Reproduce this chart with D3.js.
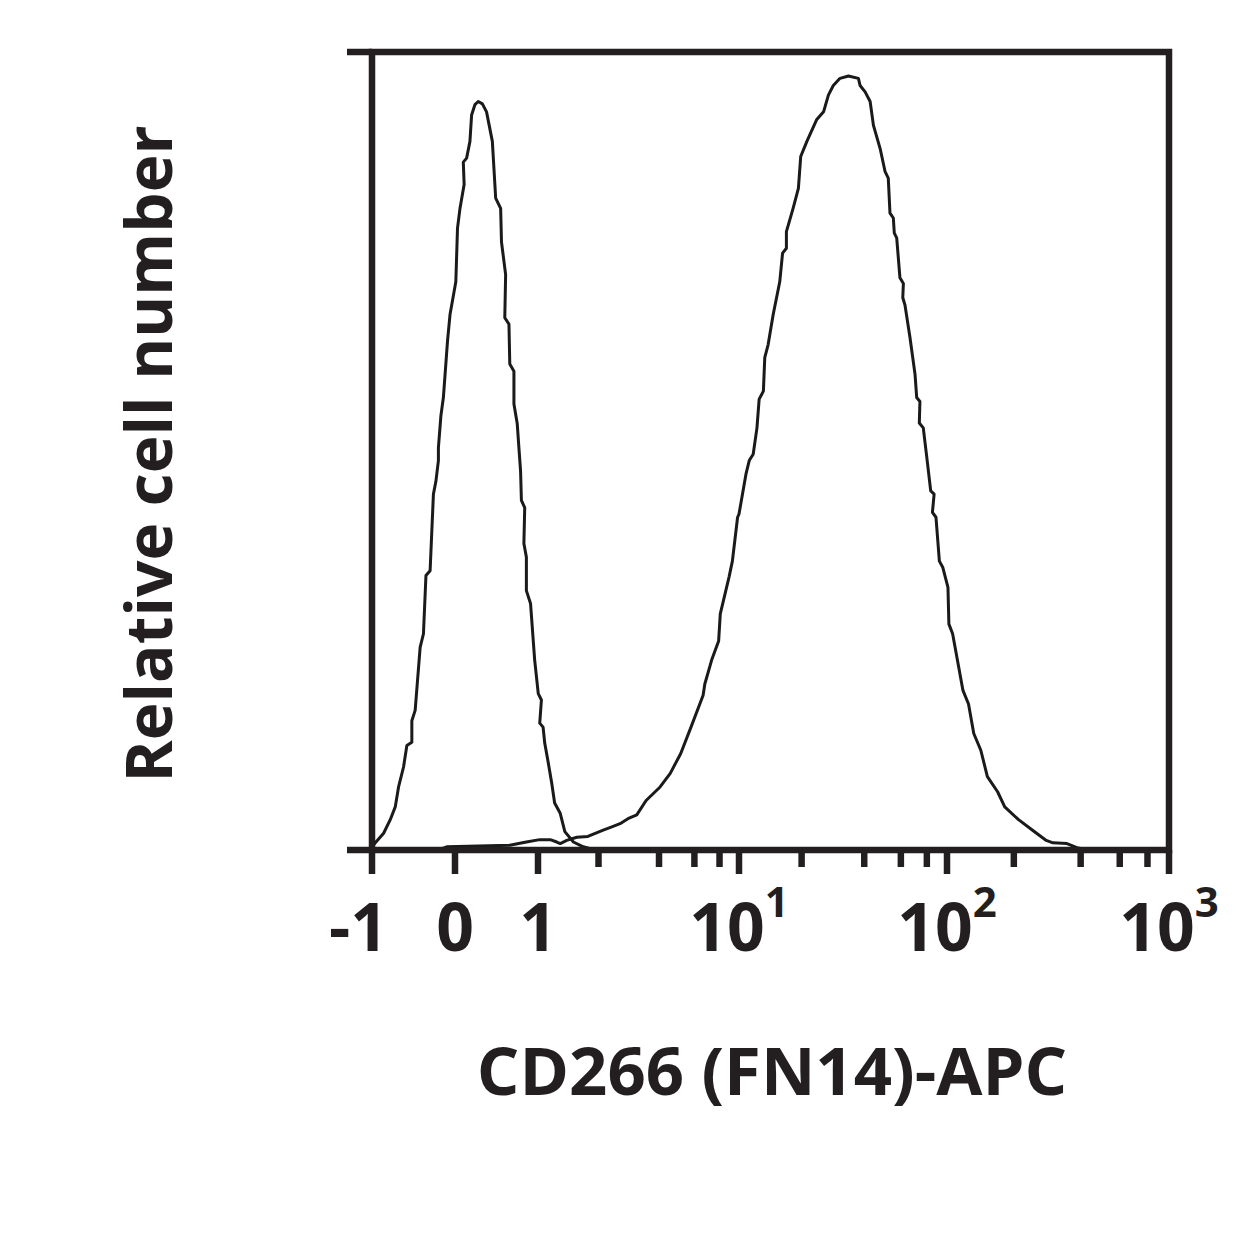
<!DOCTYPE html>
<html>
<head>
<meta charset="utf-8">
<script src="https://cdn.jsdelivr.net/npm/d3@7"></script>
<style>
	body { margin: 0; background: #fff; }
	text { font-family: "Open Sans", sans-serif; font-weight: 700; fill: #231f20; }
</style>
</head>
<body>
<div id="chart"></div>
<script>
/*globals d3 */
// flow histogram: isotype vs stained, biexponential-ish x axis
var majorTicks = [-1, 0, 1, 10, 100, 1000];
var majorLabels = ["-1", "0", "1", "10", "10", "10"];
var majorSups = ["", "", "", "1", "2", "3"];
var minorTicks = [2, 4, 6, 8, 20, 40, 60, 80, 200, 400, 600, 800];
var yTicks = [0, 100];

var xTitle = "CD266 (FN14)-APC";
var yTitle = "Relative cell number";

// isotype control (left peak)
var isoX = [-1.0, -0.96, -0.86, -0.78, -0.72, -0.68, -0.62, -0.58, -0.52, -0.52,
	-0.48, -0.42, -0.38, -0.35, -0.30, -0.26, -0.23, -0.20, -0.20, -0.17,
	-0.14, -0.09, -0.06, 0.01, 0.03, 0.06, 0.11, 0.10, 0.14, 0.18,
	0.20, 0.24, 0.28, 0.33, 0.38, 0.45, 0.49, 0.55, 0.56, 0.61,
	0.60, 0.65, 0.66, 0.71, 0.71, 0.75, 0.77, 0.79, 0.80, 0.84,
	0.83, 0.86, 0.86, 0.91, 0.96, 1.003, 1.04, 1.02, 1.06, 1.08,
	1.12, 1.17, 1.21, 1.29, 1.36, 1.50, 1.68, 1.86];
var isoY = [0.4, 0.9, 2.1, 3.8, 5.4, 7.9, 10.4, 13.1, 13.5, 16.2,
	17.5, 25.4, 27.1, 34.4, 35.0, 44.6, 46.2, 48.8, 50.4, 54.4,
	56.7, 63.8, 67.1, 71.2, 77.9, 80.4, 83.4, 86.2, 86.7, 88.8,
	92.1, 93.4, 93.8, 93.5, 92.5, 88.8, 81.7, 80.4, 76.2, 72.1,
	66.7, 65.9, 60.9, 60.0, 55.9, 53.4, 50.4, 47.5, 43.8, 42.9,
	38.4, 36.7, 32.5, 30.9, 23.8, 19.6, 18.8, 15.9, 15.4, 13.4,
	11.2, 8.4, 5.9, 4.6, 2.3, 1.0, 0.4, 0.1];

// stained sample (right peak)
var stainX = [-0.2, -0.10, 0.66, 0.86, 1.02, 1.15, 1.24, 1.29, 1.39, 1.56,
	1.77, 2.11, 2.33, 2.56, 2.84, 3.10, 3.45, 4.05, 4.55, 5.13,
	5.77, 6.63, 6.76, 7.31, 7.92, 8.07, 8.92, 9.27, 9.84, 10.0,
	10.8, 11.2, 11.7, 12.2, 12.5, 13.1, 13.3, 13.8, 14.6, 15.7,
	16.2, 16.9, 16.9, 18.2, 19.3, 19.8, 21.2, 23.6, 25.5, 26.9,
	28.4, 30.6, 33.6, 37.5, 38.2, 40.4, 42.7, 44.3, 47.7, 50.4,
	52.2, 53.2, 55.2, 55.8, 57.3, 59.4, 61.7, 61.3, 62.8, 66.4,
	70.2, 71.5, 74.1, 73.6, 76.9, 80.3, 83.5, 86.7, 85.1, 88.5,
	91.9, 95.5, 101, 102, 106, 118, 125, 132, 142, 152,
	169, 182, 210, 242, 280, 300, 347, 385, 400, 420];
var stainY = [0, 0.4, 0.6, 1.0, 1.3, 1.3, 1.0, 0.8, 1.2, 1.6,
	1.7, 2.5, 2.9, 3.3, 4.0, 4.4, 6.2, 7.9, 9.6, 12.1,
	15.4, 19.4, 20.8, 23.8, 26.2, 29.6, 34.2, 36.2, 41.7, 42.1,
	47.1, 48.8, 49.6, 52.9, 56.5, 57.5, 61.7, 63.3, 67.1, 71.2,
	74.8, 75.4, 77.5, 80.4, 82.9, 86.9, 88.8, 91.5, 92.5, 94.6,
	95.8, 96.7, 97.0, 96.7, 95.8, 95.0, 93.8, 90.8, 87.9, 85.0,
	84.2, 79.8, 79.2, 77.3, 76.7, 71.7, 71.0, 69.2, 68.3, 64.2,
	59.6, 56.7, 56.2, 53.5, 52.9, 48.8, 45.0, 44.6, 42.3, 41.7,
	36.2, 35.4, 32.9, 28.3, 27.1, 20.0, 18.3, 14.6, 12.5, 9.2,
	7.3, 5.4, 3.8, 2.5, 1.2, 0.9, 0.8, 0.3, 0.2, 0];

(function() {
	"use strict";
	var W = 1250, H = 1250,
	left = 372, right = 1169, top = 52, bottom = 850,
	ink = "#231f20";

	// linear part below 1, log decades above (slightly widening, like a logicle display)
	var xLin = d3.scaleLinear().domain([-1, 1]).range([left, 538]);
	var xDec = d3.scaleLinear().domain([0, 1, 2, 3]).range([538, 739, 947, right]);
	function x(v) {
		return v <= 1 ? xLin(v) : xDec(Math.log10(v));
	}
	var y = d3.scaleLinear().domain([0, 100]).range([bottom, top]);

	var svg = d3.select("#chart").append("svg")
	.attr("width", W)
	.attr("height", H);

	// histograms
	var line = d3.line()
	.x(function(d) { return x(d[0]); })
	.y(function(d) { return y(d[1]); });

	[[isoX, isoY], [stainX, stainY]].forEach(function(s) {
		svg.append("path")
		.datum(d3.zip(s[0], s[1]))
		.attr("d", line)
		.attr("fill", "none")
		.attr("stroke", "#1a1a1a")
		.attr("stroke-width", 3)
		.attr("stroke-linejoin", "round");
	});

	// frame
	svg.append("rect")
	.attr("x", left)
	.attr("y", top)
	.attr("width", right - left)
	.attr("height", bottom - top)
	.attr("fill", "none")
	.attr("stroke", ink)
	.attr("stroke-width", 6.5);

	// y ticks (no labels)
	svg.selectAll("line.ytick").data(yTicks).enter().append("line")
	.attr("class", "ytick")
	.attr("x1", left - 25)
	.attr("x2", left)
	.attr("y1", function(d) { return y(d); })
	.attr("y2", function(d) { return y(d); })
	.attr("stroke", ink)
	.attr("stroke-width", 6.5);

	// x ticks
	svg.selectAll("line.major").data(majorTicks).enter().append("line")
	.attr("class", "major")
	.attr("x1", function(d) { return x(d); })
	.attr("x2", function(d) { return x(d); })
	.attr("y1", bottom)
	.attr("y2", bottom + 24)
	.attr("stroke", ink)
	.attr("stroke-width", 6.5);

	svg.selectAll("line.minor").data(minorTicks).enter().append("line")
	.attr("class", "minor")
	.attr("x1", function(d) { return x(d); })
	.attr("x2", function(d) { return x(d); })
	.attr("y1", bottom)
	.attr("y2", bottom + 17)
	.attr("stroke", ink)
	.attr("stroke-width", 6.5);

	// tick labels
	var labels = svg.selectAll("text.tl").data(majorTicks).enter().append("text")
	.attr("class", "tl")
	.attr("x", function(d, i) { return i === 0 ? x(d) + 16 : x(d); })
	.attr("y", 951)
	.attr("text-anchor", function(d, i) { return i === 0 ? "end" : "middle"; })
	.attr("font-size", 66);
	labels.append("tspan")
	.text(function(d, i) { return majorLabels[i]; });
	labels.filter(function(d, i) { return majorSups[i] !== ""; })
	.append("tspan")
	.attr("dy", -34)
	.attr("font-size", 42)
	.text(function(d) { return majorSups[majorTicks.indexOf(d)]; });

	// axis titles
	svg.append("text")
	.attr("x", 772)
	.attr("y", 1095)
	.attr("text-anchor", "middle")
	.attr("font-size", 67)
	.text(xTitle);

	svg.append("text")
	.attr("transform", "translate(172,454) rotate(-90)")
	.attr("text-anchor", "middle")
	.attr("font-size", 64)
	.text(yTitle);
}());
</script>
</body>
</html>
